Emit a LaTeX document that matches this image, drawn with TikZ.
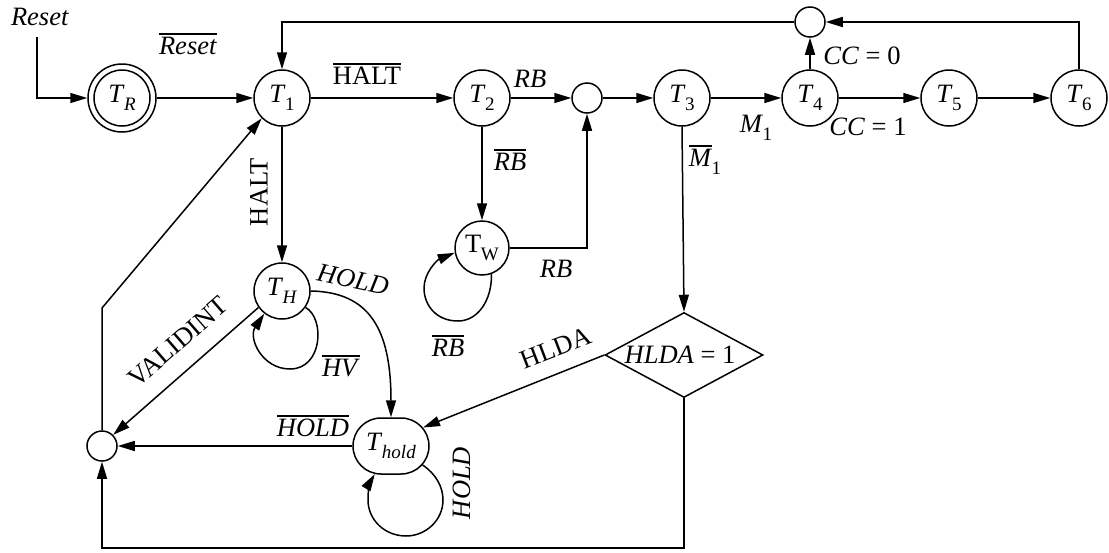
\documentclass[tikz,border=0pt]{standalone}
\usepackage{fontspec}
\setmainfont{Liberation Serif}
\usetikzlibrary{arrows.meta,shapes.geometric,shapes.misc}
\newcommand\ovl[1]{\vbox{\hrule height 1.3pt\kern2.5pt\hbox{#1}}}
\newcommand\Sb[1]{\kern-0.02em\raisebox{-0.3em}{\fontsize{19}{19}\selectfont #1}}
\begin{document}
\begin{tikzpicture}[x=1pt,y=-1pt,
  font=\fontsize{26.5}{30}\selectfont,
  line width=1.5pt,
  arr/.style={-{Triangle[length=17pt,width=10pt]}},
  st/.style={circle,draw,minimum size=56pt,inner sep=0pt},
  jn/.style={circle,draw,minimum size=30pt,inner sep=0pt},
  lbl/.style={inner sep=0pt}]
\useasboundingbox (0,0) rectangle (1109,552);

% states
\node[st,minimum size=68pt] (TR) at (122,98) {\textit{T}\Sb{\textit{R}}};
\draw (TR.center) circle (28pt);
\node[st] (T1) at (282,98) {\textit{T}\Sb{1}};
\node[st] (T2) at (482,98) {\textit{T}\Sb{2}};
\node[jn] (J1) at (587,98) {};
\node[st] (T3) at (682,98) {\textit{T}\Sb{3}};
\node[st] (T4) at (810,98) {\textit{T}\Sb{4}};
\node[st] (T5) at (949,98) {\textit{T}\Sb{5}};
\node[st] (T6) at (1079,98) {\textit{T}\Sb{6}};
\node[jn] (J2) at (810,22) {};
\node[st,minimum size=54pt] (TW) at (482,248) {T\Sb{W}};
\node[st] (TH) at (282,291) {\textit{T}\Sb{\textit{H}}};
\node[draw,rounded rectangle,minimum width=76pt,minimum height=56pt,inner sep=0pt] (Thold) at (391,446) {\textit{T}\Sb{\textit{hold}}};
\node[jn] (J3) at (102,446) {};
\node[draw,diamond,aspect=1.86,minimum width=158pt,minimum height=85pt,inner sep=0pt] (D) at (684,355) {};
\node[lbl] (Dt) at (680,355) {\textit{HLDA} = 1};

\coordinate (rs) at (37,37);
\coordinate (bend) at (102,308);
\coordinate (bot) at (684,548);

% connectors
\draw[arr] (rs) |- (TR.west);
\draw[arr] (TR) -- (T1);
\draw[arr] (T1) -- (T2);
\draw[arr] (T2) -- (J1);
\draw[arr] (J1) -- (T3);
\draw[arr] (T3) -- (T4);
\draw[arr] (T4) -- (T5);
\draw[arr] (T5) -- (T6);
\draw[arr] (T4) -- (J2);
\draw[arr] (T6.north) |- (J2.east);
\draw[arr] (J2.west) -| (T1.north);
\draw[arr] (T2) -- (TW);
\draw[arr] (TW.east) -| (J1.south);
\draw[arr] (T1) -- (TH);
\draw[arr] (T3.south) -- (D.north);
\draw[arr] (D.west) -- (Thold.30);
\draw[arr] (D.south) -- (bot) -| (J3.south);
\draw[arr] (Thold.west) -- (J3.east);
\draw[arr] (TH.215) -- (J3.45);
\draw[arr] (J3.north) -- (bend) -- (T1.225);
\draw[arr] (TH.east) .. controls (370,292) and (391,330) .. (Thold.north);
% loops
\draw[arr] (TH.-35) .. controls (325,318) and (323,369) .. (290,369)
  .. controls (262,369) and (248,338) .. (TH.-128);
\draw[arr] (TW.-70) .. controls (492,300) and (478,321) .. (458,321)
  .. controls (436,321) and (424,305) .. (424,288)
  .. controls (424,273) and (437,260) .. (TW.190);
\draw[arr] (Thold.-31) .. controls (436,474) and (443,487) .. (443,500)
  .. controls (443,520) and (426,536) .. (406,536)
  .. controls (385,536) and (368,520) .. (368,500)
  .. controls (368,490) and (370,482) .. (Thold.-120);

% labels
\node[lbl] (l1) at (40,17) {\textit{Reset}};
\node[lbl] (l2) at (188,44) {\ovl{\textit{Reset}}};
\node[lbl] (l3) at (367,74) {\ovl{HALT}};
\node[lbl] (l4) at (530,79) {\textit{RB}};
\node[lbl] (l5) at (510,160) {\ovl{\textit{RB}}};
\node[lbl,anchor=west] (l6) at (688,160) {\ovl{\textit{M}}\Sb{1}};
\node[lbl] (l7) at (756,128) {\textit{M}\Sb{1}};
\node[lbl] (l8) at (868,127) {\textit{CC} = 1};
\node[lbl] (l9) at (862,56) {\textit{CC} = 0};
\node[lbl,rotate=90] (l10) at (259,192) {HALT};
\node[lbl] (l11) at (556,269) {\textit{RB}};
\node[lbl] (l12) at (448,346) {\ovl{\textit{RB}}};
\node[lbl,rotate=-12] (l13) at (353,280) {\textit{HOLD}};
\node[lbl] (l14) at (341,366) {\ovl{\textit{HV}}};
\node[lbl,rotate=41] (l15) at (178,342) {VALIDINT};
\node[lbl] (l16) at (313,426) {\ovl{\textit{HOLD}}};
\node[lbl,rotate=90] (l17) at (462,483) {\textit{HOLD}};
\node[lbl,rotate=21] (l18) at (556,348) {HLDA};
\end{tikzpicture}
\end{document}
